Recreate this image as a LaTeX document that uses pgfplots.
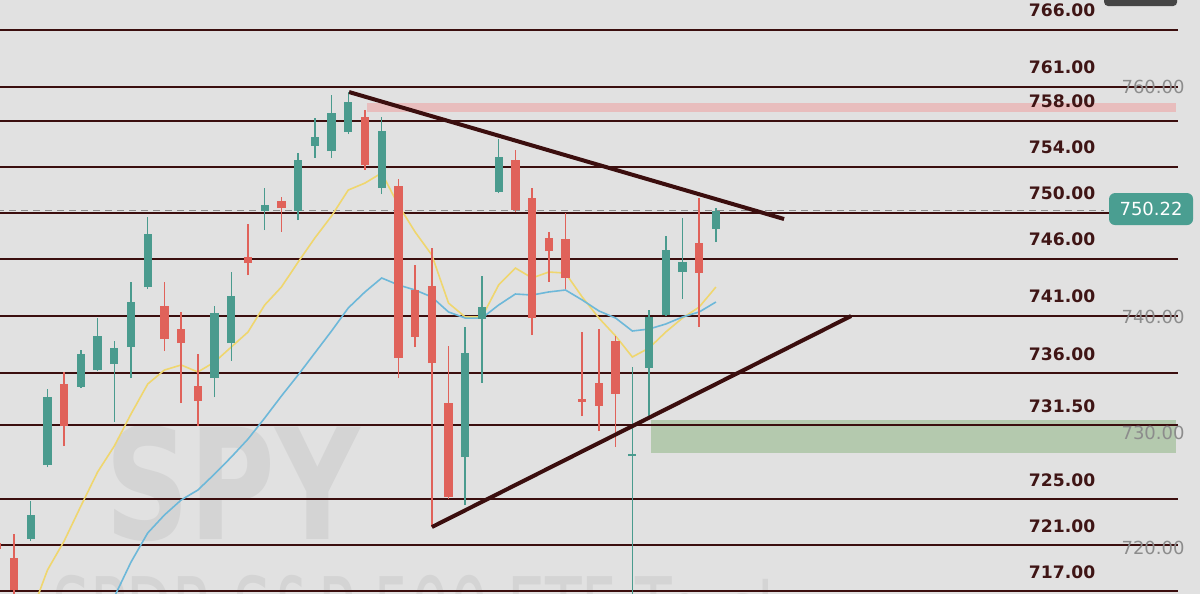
\documentclass[border=0pt]{standalone}
\usepackage{pgfplots}
\pgfplotsset{compat=1.18}
\usepackage{pgfplotstable}
\usepackage{graphicx}
\usepackage{fontspec}
\setmainfont{DejaVu Sans}
\newfontfamily\dv{DejaVu Sans}
\definecolor{bgc}{HTML}{E1E1E1}
\definecolor{cgreen}{HTML}{4A9B8E}
\definecolor{cred}{HTML}{E0625A}
\definecolor{lvl}{HTML}{3B0E0E}
\definecolor{lbl}{HTML}{3F1515}
\definecolor{maY}{HTML}{EFD66E}
\definecolor{maB}{HTML}{6DB8D9}
\definecolor{pinkz}{HTML}{E8BDBD}
\definecolor{greenz}{HTML}{B4C9AE}
\definecolor{glbl}{HTML}{8C8C8C}
\definecolor{pbox}{HTML}{4A9E91}
\definecolor{wm}{HTML}{D4D4D4}
\definecolor{topr}{HTML}{454545}

\pgfplotstableread{
k o h l c
2 721.52 724.84 721.35 723.62
3 727.98 734.62 727.81 733.92
5 734.80 738.03 734.71 737.68
6 736.28 740.82 736.20 739.25
7 736.80 738.82 731.74 738.20
8 738.29 743.97 735.58 742.22
9 743.53 749.65 743.36 748.16
13 735.58 741.87 733.92 741.26
14 738.64 744.84 737.07 742.75
16 750.17 752.18 748.51 750.69
18 750.17 755.24 749.38 754.62
19 755.85 758.29 754.80 756.63
20 755.41 760.30 754.80 758.73
21 757.07 760.56 756.89 759.69
23 752.18 758.38 751.65 757.16
28 728.68 740.04 724.49 737.77
29 740.74 744.49 735.15 741.78
30 751.83 756.46 751.70 754.88
38 728.77 736.54 715.00 728.95
39 736.46 741.52 732.09 740.91
40 741.09 747.99 741.00 746.76
41 744.84 749.56 742.49 745.72
43 748.60 750.43 747.46 750.17
}\greentab

\pgfplotstableread{
k o h l c
0 721.17 721.43 720.30 720.65
1 719.86 721.96 716.00 717.07
4 735.06 736.11 729.64 731.39
10 741.87 743.97 737.94 738.99
11 739.86 741.35 733.40 738.64
12 734.89 737.68 731.39 733.57
15 746.15 749.03 744.58 745.63
17 751.04 751.39 748.34 750.43
22 758.38 758.99 753.75 754.19
24 752.35 752.96 735.58 737.33
25 743.27 745.46 738.29 739.17
26 743.62 746.94 722.57 736.89
27 733.40 738.38 725.00 725.19
31 754.62 755.50 750.08 750.26
32 751.30 752.18 739.34 740.82
33 747.81 748.34 743.97 746.67
34 747.72 749.99 743.36 744.32
35 733.75 739.60 732.26 733.49
36 735.15 739.86 730.95 733.14
37 738.82 739.25 729.56 734.19
42 747.38 751.30 740.04 744.76
}\redtab

\pgfplotstableread{
k v
2 714.88
3 718.81
4 721.35
5 724.40
6 727.37
7 729.64
8 732.44
9 735.06
10 736.28
11 736.72
12 736.11
13 736.98
14 738.29
15 739.60
16 741.96
17 743.53
18 745.71
19 747.81
20 749.73
21 752.00
22 752.61
23 753.49
24 750.69
25 748.34
26 746.33
27 742.13
28 740.91
29 740.91
30 743.71
31 745.19
32 744.32
33 744.84
34 744.75
35 742.66
36 740.82
37 739.25
38 737.42
39 738.20
40 739.60
41 740.82
42 741.78
43 743.53
}\maytab

\pgfplotstableread{
k v
7 716.46
8 719.51
9 722.05
10 723.62
11 724.93
12 725.80
13 727.20
14 728.68
15 730.25
16 732.09
17 734.01
18 735.85
19 737.77
20 739.69
21 741.70
22 743.10
23 744.32
24 743.71
25 743.27
26 742.66
27 741.35
28 740.82
29 740.82
30 741.96
31 742.92
32 742.83
33 743.10
34 743.27
35 742.40
36 741.44
37 740.82
38 739.69
39 739.86
40 740.30
41 740.91
42 741.35
43 742.22
}\mabtab

\pgfplotsset{candle/.style 2 args={draw=none, no markers, forget plot,
  error bars/.cd, y dir=plus, y explicit, error mark=none,
  error bar style={line width=#1, draw=#2}}}

\begin{document}
\begin{tikzpicture}
\begin{axis}[
  scale only axis, width=600pt, height=297pt,
  xmin=0.16, xmax=71.97, ymin=716.72, ymax=768.6,
  axis line style={draw=none}, ticks=none,
  axis background/.style={fill=bgc},
  clip=true,
]
% watermark
\node[anchor=base west, inner sep=0pt, text=wm, font=\dv\bfseries\fontsize{77}{80}\selectfont] at (axis cs:6.45,721.44) {\scalebox{0.76}[1]{SPY}};
\node[anchor=base west, inner sep=0pt, text=wm, font=\dv\fontsize{50}{52}\selectfont] at (axis cs:3.27,711.83) {\scalebox{0.6}[1]{SPDR S\&P 500 ETF Trust}};
% zones
\addplot[fill=pinkz, draw=none, forget plot] coordinates {(22.12,758.82) (70.54,758.82) (70.54,759.60) (22.12,759.60)} -- cycle;
\addplot[fill=greenz, draw=none, forget plot] coordinates {(39.12,729.03) (70.54,729.03) (70.54,731.92) (39.12,731.92)} -- cycle;
% levels
\pgfplotsinvokeforeach{766,761,758,754,750,746,741,736,731.5,725,721,717}{
  \addplot[lvl, line width=1.1pt, forget plot] coordinates {(0,#1) (70.66,#1)};
}
% current price dashed
\addplot[glbl, line width=0.9pt, dash pattern=on 3.5pt off 2.5pt, forget plot] coordinates {(0,750.22) (66.2,750.22)};
% moving averages
\addplot[maY, line width=0.8pt, forget plot] table[x=k, y=v] {\maytab};
\addplot[maB, line width=0.8pt, forget plot] table[x=k, y=v] {\mabtab};
% wicks
\addplot[candle={0.75pt}{cgreen}]
  table[x=k, y=l, y error expr=\thisrow{h}-\thisrow{l}] {\greentab};
\addplot[candle={0.75pt}{cred}]
  table[x=k, y=l, y error expr=\thisrow{h}-\thisrow{l}] {\redtab};
% bodies
\addplot[candle={4.15pt}{cgreen}]
  table[x=k, y=o, y error expr=\thisrow{c}-\thisrow{o}] {\greentab};
\addplot[candle={4.15pt}{cred}]
  table[x=k, y=c, y error expr=\thisrow{o}-\thisrow{c}] {\redtab};
% trendlines
\addplot[lvl, line width=2pt, forget plot] coordinates {(21.05,760.56) (47.08,749.47)};
\addplot[lvl, line width=2pt, forget plot] coordinates {(26.01,722.57) (51.09,741.0)};
% level labels
\begin{scope}[every node/.style={text=lbl, font=\dv\bfseries\fontsize{8.6}{10}\selectfont, inner sep=0pt}]
\node at (axis cs:63.72,767.72) {766.00};
\node at (axis cs:63.72,762.72) {761.00};
\node at (axis cs:63.72,759.72) {758.00};
\node at (axis cs:63.72,755.72) {754.00};
\node at (axis cs:63.72,751.72) {750.00};
\node at (axis cs:63.72,747.72) {746.00};
\node at (axis cs:63.72,742.70) {741.00};
\node at (axis cs:63.72,737.70) {736.00};
\node at (axis cs:63.72,733.10) {731.50};
\node at (axis cs:63.72,726.62) {725.00};
\node at (axis cs:63.72,722.66) {721.00};
\node at (axis cs:63.72,718.66) {717.00};
\end{scope}
% gray scale labels
\begin{scope}[every node/.style={text=glbl, font=\dv\fontsize{9}{10}\selectfont, inner sep=0pt}]
\node at (axis cs:69.16,761.0) {760.00};
\node at (axis cs:69.16,740.91) {740.00};
\node at (axis cs:69.16,730.78) {730.00};
\node at (axis cs:69.16,720.74) {720.00};
\end{scope}
% price box
\node[fill=pbox, rounded corners=3pt, minimum width=42pt, minimum height=16pt, inner sep=0pt, text=white, font=\dv\fontsize{9}{10}\selectfont] at (axis cs:69.04,750.34) {750.22};
% top-right rect
\fill[topr, rounded corners=2pt] (axis cs:66.23,770) rectangle (axis cs:70.6,768.07);
\end{axis}
\pgfresetboundingbox
\path[use as bounding box] (current axis.south west) rectangle (current axis.north east);
\end{tikzpicture}
\end{document}
